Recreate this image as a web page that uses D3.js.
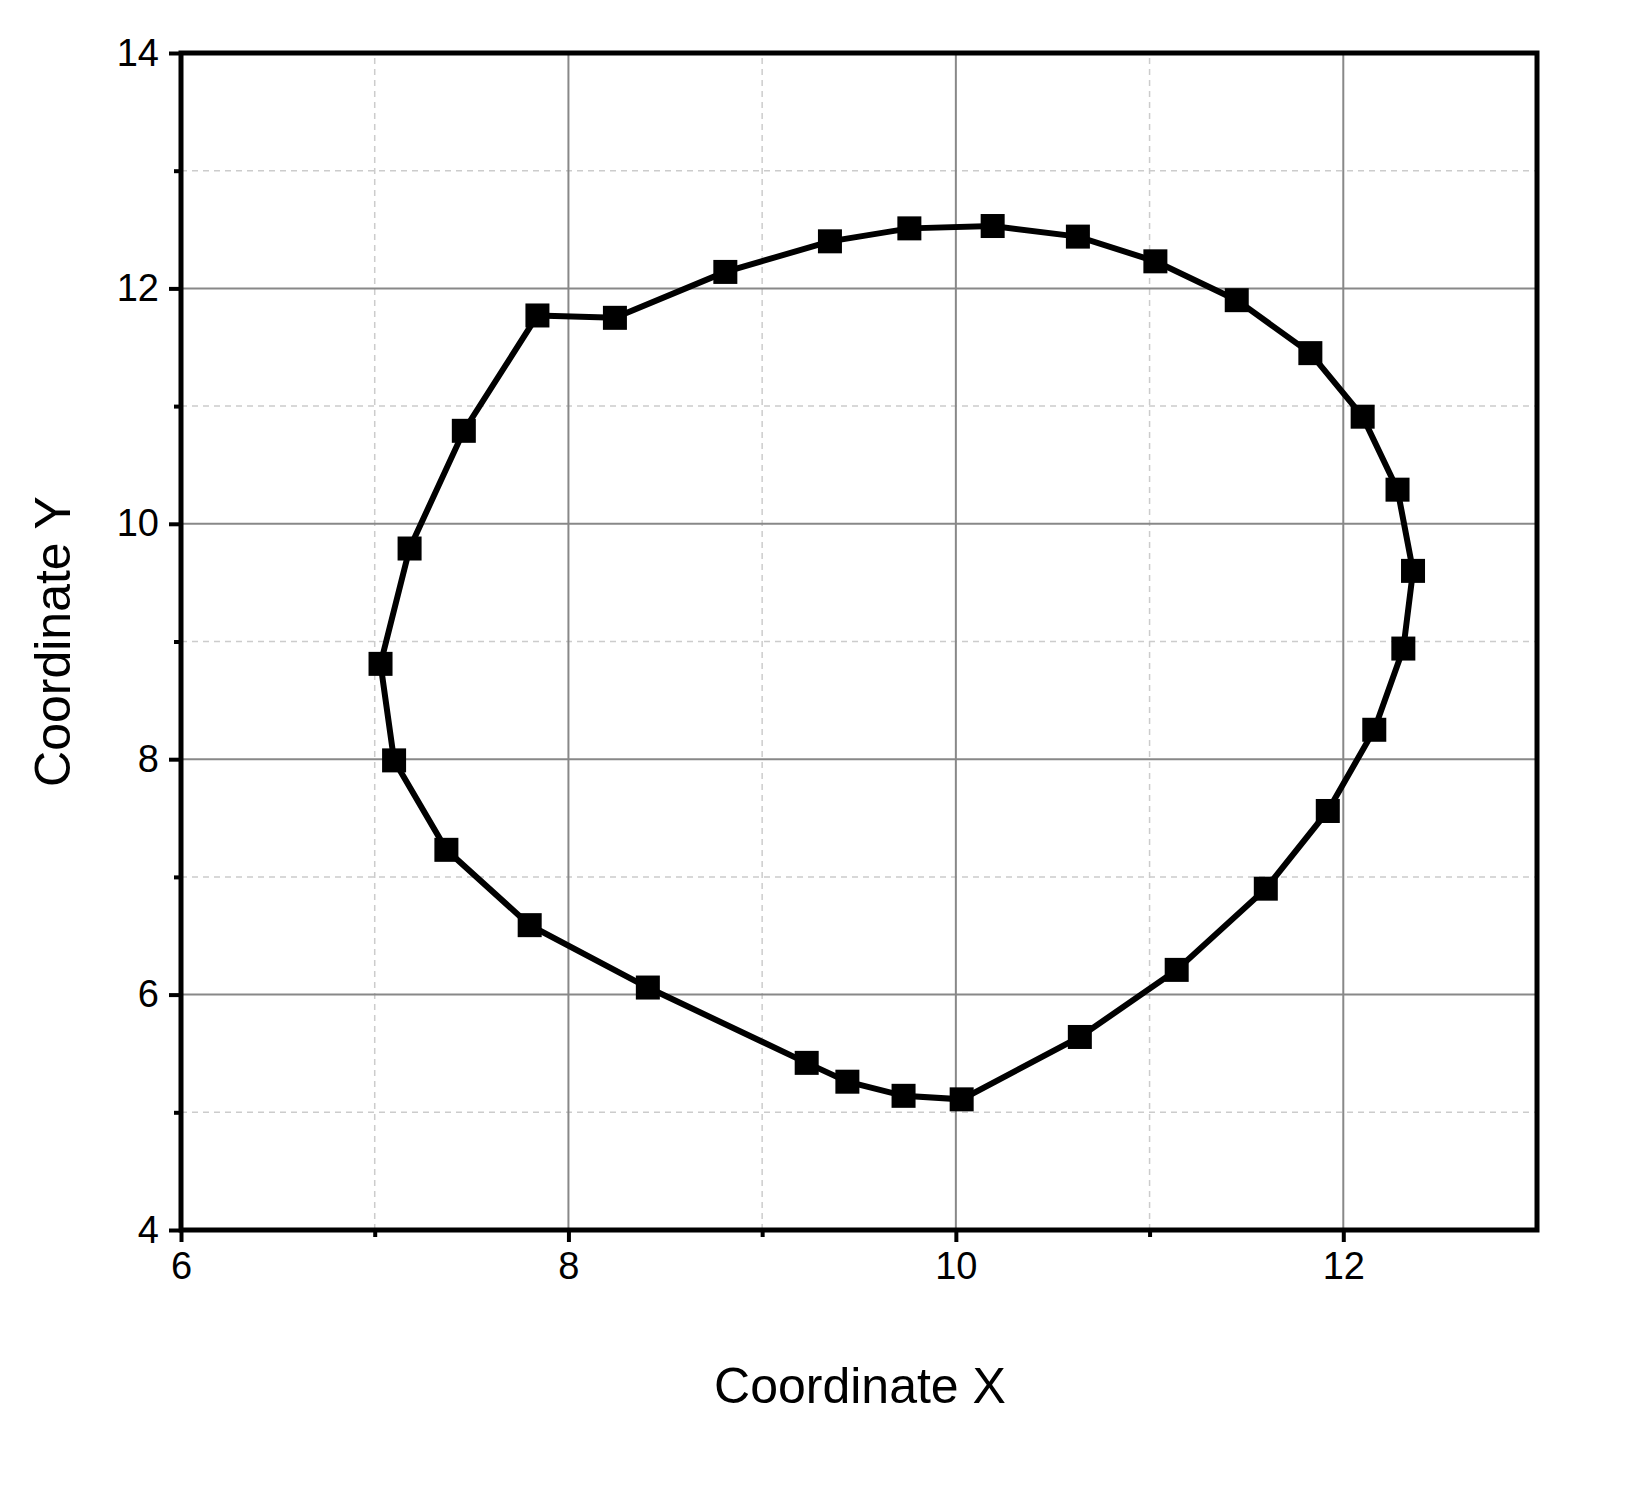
<!DOCTYPE html>
<html><head><meta charset="utf-8">
<script src="https://cdn.jsdelivr.net/npm/d3@7"></script>
<style>body{margin:0;background:#fff}</style>
</head><body>
<script>
const xs = [7.84, 8.24, 8.81, 9.35, 9.76, 10.19, 10.63, 11.03, 11.45, 11.83, 12.10, 12.28, 12.36, 12.31, 12.16,
  11.92, 11.60, 11.14, 10.64, 10.03, 9.73, 9.44, 9.23, 8.41, 7.80, 7.37, 7.10, 7.03, 7.18, 7.46]
const ys = [11.77, 11.75, 12.14, 12.40, 12.51, 12.53, 12.44, 12.23, 11.90, 11.45, 10.91, 10.29, 9.60, 8.94, 8.25,
  7.56, 6.90, 6.21, 5.64, 5.11, 5.14, 5.26, 5.42, 6.06, 6.59, 7.23, 7.99, 8.81, 9.79, 10.79]
const xMajor = [6, 8, 10, 12]
const xMinor = [7, 9, 11]
const yMajor = [4, 6, 8, 10, 12, 14]
const yMinor = [5, 7, 9, 11, 13]

const width = 1630, height = 1486
const margin = { top: 53, right: 93, bottom: 256, left: 181 }
const x = d3.scaleLinear().domain([6, 13]).range([margin.left, width - margin.right])
const y = d3.scaleLinear().domain([4, 14]).range([height - margin.bottom, margin.top])

const svg = d3.select('body').append('svg').attr('width', width).attr('height', height)
  .style('font-family', 'Arial, Liberation Sans, sans-serif')

// grid
svg.append('g').selectAll('line').data(xMinor).join('line')
  .attr('x1', d => x(d)).attr('x2', d => x(d)).attr('y1', y(4)).attr('y2', y(14))
  .attr('stroke', '#ccc').attr('stroke-width', 1.5).attr('stroke-dasharray', '6,5')
svg.append('g').selectAll('line').data(yMinor).join('line')
  .attr('y1', d => y(d)).attr('y2', d => y(d)).attr('x1', x(6)).attr('x2', x(13))
  .attr('stroke', '#ccc').attr('stroke-width', 1.5).attr('stroke-dasharray', '6,5')
svg.append('g').selectAll('line').data(xMajor.slice(1)).join('line')
  .attr('x1', d => x(d)).attr('x2', d => x(d)).attr('y1', y(4)).attr('y2', y(14))
  .attr('stroke', '#888').attr('stroke-width', 2)
svg.append('g').selectAll('line').data(yMajor.slice(1, -1)).join('line')
  .attr('y1', d => y(d)).attr('y2', d => y(d)).attr('x1', x(6)).attr('x2', x(13))
  .attr('stroke', '#888').attr('stroke-width', 2)

// axes
const xAxis = svg.append('g').attr('transform', `translate(0,${y(4)})`)
  .call(d3.axisBottom(x).tickValues(xMajor).tickFormat(d3.format('d')).tickSize(12).tickPadding(10))
const xAxisMinor = svg.append('g').attr('transform', `translate(0,${y(4)})`)
  .call(d3.axisBottom(x).tickValues(xMinor).tickFormat('').tickSize(7))
const yAxis = svg.append('g').attr('transform', `translate(${x(6)},0)`)
  .call(d3.axisLeft(y).tickValues(yMajor).tickFormat(d3.format('d')).tickSize(12).tickPadding(10))
const yAxisMinor = svg.append('g').attr('transform', `translate(${x(6)},0)`)
  .call(d3.axisLeft(y).tickValues(yMinor).tickFormat('').tickSize(7))
;[xAxis, xAxisMinor, yAxis, yAxisMinor].forEach(g => {
  g.select('.domain').remove()
  g.selectAll('line').attr('stroke', '#000').attr('stroke-width', 4)
  g.selectAll('text').attr('font-size', 38).attr('fill', '#000')
})

// frame
svg.append('rect').attr('x', x(6)).attr('y', y(14))
  .attr('width', x(13) - x(6)).attr('height', y(4) - y(14))
  .attr('fill', 'none').attr('stroke', '#000').attr('stroke-width', 5)

// line + markers
const pts = xs.map((v, i) => [v, ys[i]])
svg.append('path').datum(pts.concat([pts[0]]))
  .attr('d', d3.line().x(d => x(d[0])).y(d => y(d[1])))
  .attr('fill', 'none').attr('stroke', '#000').attr('stroke-width', 6)
svg.append('g').selectAll('rect').data(pts).join('rect')
  .attr('x', d => x(d[0]) - 12).attr('y', d => y(d[1]) - 12)
  .attr('width', 24).attr('height', 24).attr('fill', '#000')

// titles
svg.append('text').attr('x', (x(6) + x(13)) / 2 + 1).attr('y', 1403)
  .attr('text-anchor', 'middle').attr('font-size', 50).text('Coordinate X')
svg.append('text').attr('transform', `translate(70,${(y(4) + y(14)) / 2}) rotate(-90)`)
  .attr('text-anchor', 'middle').attr('font-size', 50).text('Coordinate Y')
</script>
</body></html>
